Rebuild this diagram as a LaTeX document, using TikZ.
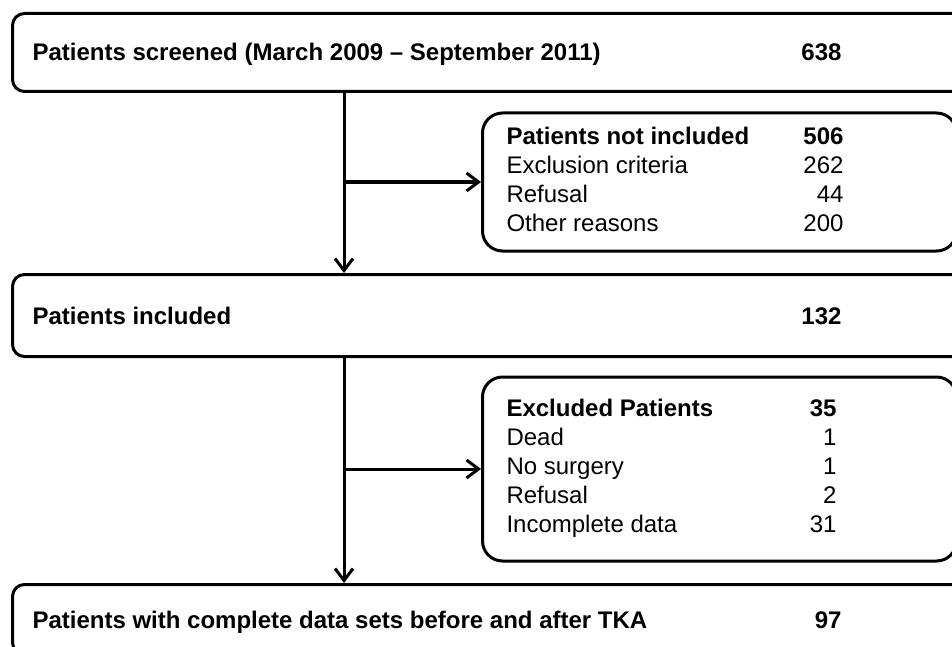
\documentclass[tikz,border=0pt]{standalone}
\usepackage{fontspec}
\setmainfont{Liberation Sans}
\usetikzlibrary{arrows.meta, positioning}
\tikzset{
  % wide rows: bold label left, count right, box runs off the right edge
  mainbox/.style={draw, line width=3pt, rounded corners=12pt, anchor=north west,
    minimum width=960pt, inner xsep=20pt, inner ysep=0pt,
    text height=17pt, text depth=0pt,
    font=\fontsize{24}{29}\selectfont\bfseries},
  % side boxes with the breakdown table
  sidebox/.style={draw, line width=3pt, rounded corners=20pt, anchor=west,
    minimum width=474pt, inner xsep=24pt, inner ysep=0pt,
    font=\fontsize{24}{29}\selectfont},
  A/.style={-{Straight Barb[length=12pt,width=18pt]}, line width=3pt},
}
\newcommand{\rowtext}[2]{\makebox[920pt][l]{\makebox[809pt][l]{#1\hfill #2}}}

\begin{document}
\begin{tikzpicture}[x=1pt, y=-1pt]
\clip (0,0) rectangle (952,647);

% =====================================================================
% MAIN COLUMN
% =====================================================================
\node[mainbox, minimum height=78pt] (screen) at (11,12)
  {\rowtext{Patients screened (March 2009 – September 2011)}{638}};

\node[mainbox, minimum height=82pt] (incl) at (11,273)
  {\rowtext{Patients included}{132}};

\node[mainbox, minimum height=70pt] (final) at (11,583)
  {\rowtext{Patients with complete data sets before and after TKA}{97}};

\coordinate (spine) at (344,0);

% =====================================================================
% SIDE BOXES
% =====================================================================
\node[sidebox, minimum height=138pt] (notinc) at (481,182) {%
  \makebox[426pt][l]{\begin{tabular*}{337pt}{@{}l@{\extracolsep{\fill}}r@{}}
    \textbf{Patients not included} & \textbf{506}\\
    Exclusion criteria & 262\\
    Refusal & 44\\
    Other reasons & 200
  \end{tabular*}}};

\node[sidebox, minimum height=184pt] (excl) at (481,469) {%
  \makebox[426pt][l]{\begin{tabular*}{330pt}{@{}l@{\extracolsep{\fill}}r@{}}
    \textbf{Excluded Patients} & \textbf{35}\\
    Dead & 1\\
    No surgery & 1\\
    Refusal & 2\\
    Incomplete data & 31
  \end{tabular*}}};

% ── arrows ───────────────────────────────────────────────────────────
\draw[A] (screen.south -| spine) -- (incl.north -| spine);
\draw[A] (spine |- notinc.west) -- (notinc.west);
\draw[A] (incl.south -| spine) -- (final.north -| spine);
\draw[A] (spine |- excl.west) -- (excl.west);

\end{tikzpicture}
\end{document}
